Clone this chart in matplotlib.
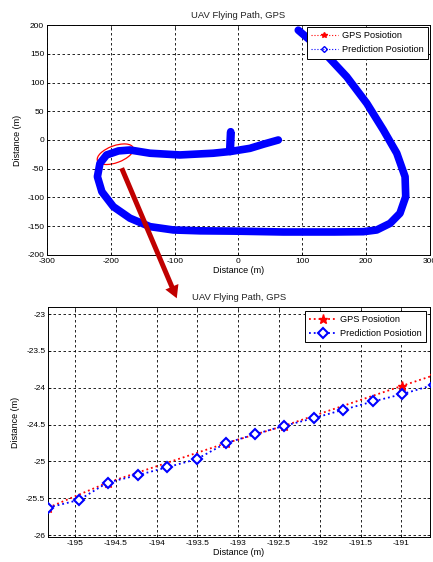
# UAV flying path, GPS vs prediction (overview + zoom)

import matplotlib
matplotlib.use("Agg")
import matplotlib.pyplot as plt
from matplotlib.lines import Line2D
from matplotlib.patches import Ellipse
from matplotlib.transforms import ScaledTranslation
from matplotlib.ticker import FuncFormatter

plt.rcParams['font.family'] = ['Liberation Sans', 'DejaVu Sans']
plt.rcParams['axes.unicode_minus'] = False

# whole flight (m)
path_x = [93.7, 133, 169.6, 201, 227, 248, 261, 262, 253, 237.5, 216.6, 195.6, 150, 70, -8, -60,
          -102, -138.7, -170, -196, -214, -221, -217, -206.6, -188, -170, -138.7, -91.7, -39.5,
          -13.3, -12.2, -12.5, 18, 40, 62.4]
path_y = [191, 153.6, 110, 63.8, 17.4, -23, -63.8, -98.6, -127.5, -145, -156.5, -159.5, -160, -160,
          -158.5, -158, -156.5, -150.7, -136, -116, -90, -63.8, -40.5, -26, -19, -17.4, -23, -26, -23,
          -20, 14.4, -20, -14.5, -7, 0]

# zoomed part near (-193, -25)
gps_x = [-195.327, -194.60, -193.151, -192.437, -190.988, -190.60]
gps_y = [-25.628, -25.288, -24.754, -24.518, -23.974, -23.83]
pred_x = [-195.327, -194.951, -194.60, -194.233, -193.869, -193.510, -193.151, -192.792,
          -192.437, -192.073, -191.714, -191.347, -190.988, -190.60]
pred_y = [-25.628, -25.524, -25.288, -25.188, -25.080, -24.971, -24.754, -24.631,
          -24.518, -24.414, -24.300, -24.187, -24.087, -23.96]

title = "UAV Flying Path, GPS"
labels = ["GPS Posiotion", "Prediction Posiotion"]

red = (1, 0, 0)
blue = (0, 0, 1)

fig = plt.figure(figsize=(4.33, 5.62), dpi=100)
ax1 = fig.add_axes([0.1085, 0.5463, 0.8845, 0.4092])
ax2 = fig.add_axes([0.111, 0.0445, 0.882, 0.4092])

fmt = FuncFormatter(lambda v, p: "%g" % round(v, 3))

def style(ax):
  ax.grid(True, color="black", ls=(0, (3, 3)), lw=0.6)
  ax.tick_params(direction="in", top=True, right=True, labelsize=6, length=2.5, width=0.5, pad=2)
  for s in ax.spines.values():
    s.set_linewidth(0.7)
  ax.set_title(title, fontsize=6.8, pad=5, color="#222222")
  ax.set_xlabel("Distance (m)", fontsize=6.5, labelpad=1)
  ax.set_ylabel("Distance (m)", fontsize=6.5, labelpad=4)
  ax.xaxis.set_major_formatter(fmt)
  ax.yaxis.set_major_formatter(fmt)

def legend(ax, handles, top_pad):
  leg = ax.legend(handles, labels, loc="upper right", fontsize=6.6, fancybox=False,
                  edgecolor="black", framealpha=1, borderaxespad=top_pad, handlelength=3.0,
                  labelspacing=0.55, borderpad=0.45, handletextpad=0.4)
  leg.get_frame().set_linewidth(0.7)

# overview
ax1.plot(path_x, path_y, ls=":", color=red, lw=0.8)
ax1.plot(path_x, path_y, ls="-", color=blue, lw=5.5, solid_capstyle="round", solid_joinstyle="round")
ax1.set_xlim(-300, 300)
ax1.set_ylim(-200, 200)
ax1.set_xticks(range(-300, 301, 100))
ax1.set_yticks(range(-200, 201, 50))
style(ax1)
legend(ax1, [Line2D([], [], ls=":", color=red, marker="*", ms=4, lw=0.8),
             Line2D([], [], ls=":", color=blue, marker="D", ms=3, mfc="none", lw=0.8)], 0.25)

# red ring around the zoomed region
cx = sum(pred_x) / len(pred_x)
cy = sum(pred_y) / len(pred_y)
ring = Ellipse((0, 0), 0.38, 0.17, angle=20, fill=False, ec=red, lw=0.9,
               transform=fig.dpi_scale_trans + ScaledTranslation(cx, cy, ax1.transData))
ax1.add_patch(ring)

# zoom
ax2.plot(gps_x, gps_y, ls=":", color=red, lw=1.3, marker="*", ms=6.5, zorder=3)
ax2.plot(pred_x, pred_y, ls=":", color=blue, lw=1.3, marker="D", ms=5.5, mfc="white",
         mew=1.5, zorder=4)
ax2.set_xlim(-195.33, -190.65)
ax2.set_ylim(-26.027, -22.905)
ax2.set_xticks([-195 + 0.5 * i for i in range(9)])
ax2.set_yticks([-26 + 0.5 * i for i in range(7)])
style(ax2)
legend(ax2, ax2.get_lines(), 0.45)

# arrow from ring to zoom plot
ax1.annotate("", xy=(0.337, 1.038), xycoords=ax2.transAxes, xytext=(-183, -49),
             textcoords="data", annotation_clip=False, zorder=10,
             arrowprops=dict(arrowstyle="simple,head_length=0.75,head_width=0.85,tail_width=0.3",
                             mutation_scale=12, color="#c00000", lw=0, shrinkA=0, shrinkB=0))

fig.savefig("out.png", dpi=100)
